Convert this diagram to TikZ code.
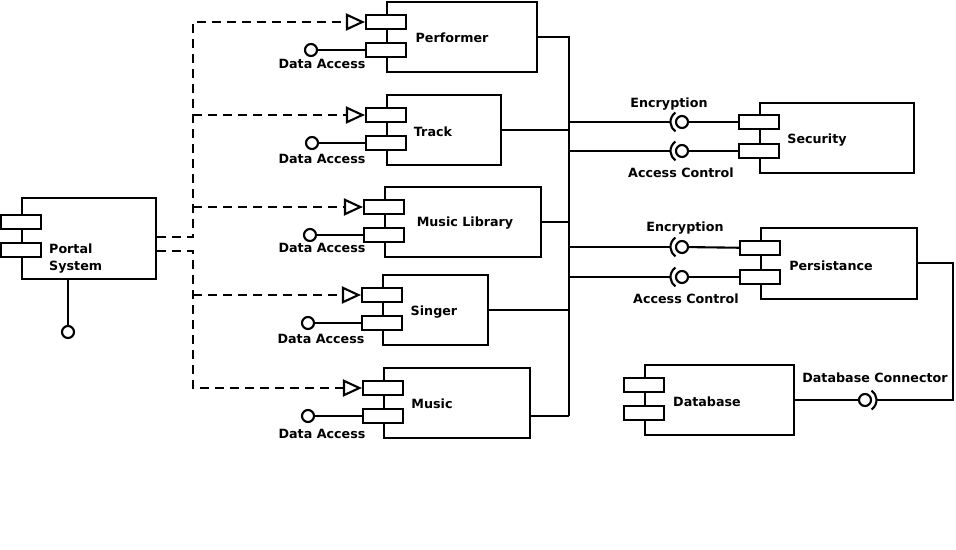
\documentclass[tikz,border=0pt]{standalone}
\usepackage{fontspec}
\setmainfont{DejaVu Sans}
\usetikzlibrary{arrows.meta}
\begin{document}
\begin{tikzpicture}[x=1pt,y=-1pt,
  comp/.style={draw, line width=2.1pt, inner sep=0, anchor=north west},
  port/.style={draw, line width=2.1pt, fill=white, minimum width=40pt, minimum height=14pt, inner sep=0},
  txt/.style={font=\bfseries\fontsize{12.7}{16.5}\selectfont, inner sep=0},
  ball/.style={circle, draw, line width=2.1pt, minimum size=12pt, inner sep=0},
  dep/.style={line width=2.1pt, dash pattern=on 9pt off 6pt, -{Triangle[open,length=19pt,width=17pt]}},
  wire/.style={line width=2.1pt}]
\useasboundingbox (0,0) rectangle (956,549);

% ---------- Portal System ----------
\node[comp, minimum width=134pt, minimum height=81pt] (portal) at (21,197) {};
\node[port] (portP1) at (21,222) {};
\node[port] (portP2) at (21,250) {};
\node[txt, anchor=west, align=left] (portL) at (49,258.5) {Portal\\System};
\node[ball] (portB) at (68,332) {};
\draw[wire] (portB) -- (portB |- portal.south);

% ---------- Performer ----------
\node[comp, minimum width=150pt, minimum height=70pt] (perf) at (386,1) {};
\node[port] (perfP1) at (386,22) {};
\node[port] (perfP2) at (386,50) {};
\node[txt] (perfL) at (452,38) {Performer};
\node[ball] (perfB) at (311,50) {};
\draw[wire] (perfB) -- (perfP2);
\node[txt] (perfD) at (322,64) {Data Access};

% ---------- Track ----------
\node[comp, minimum width=114pt, minimum height=70pt] (track) at (386,94) {};
\node[port] (trackP1) at (386,115) {};
\node[port] (trackP2) at (386,143) {};
\node[txt] (trackL) at (433,132) {Track};
\node[ball] (trackB) at (312,143) {};
\draw[wire] (trackB) -- (trackP2);
\node[txt] (trackD) at (322,159) {Data Access};

% ---------- Music Library ----------
\node[comp, minimum width=156pt, minimum height=70pt] (ml) at (384,186) {};
\node[port] (mlP1) at (384,207) {};
\node[port] (mlP2) at (384,235) {};
\node[txt] (mlL) at (465,223) {Music Library};
\node[ball] (mlB) at (310,235) {};
\draw[wire] (mlB) -- (mlP2);
\node[txt] (mlD) at (322,248) {Data Access};

% ---------- Singer ----------
\node[comp, minimum width=105pt, minimum height=70pt] (sing) at (382,274) {};
\node[port] (singP1) at (382,295) {};
\node[port] (singP2) at (382,323) {};
\node[txt] (singL) at (434,312) {Singer};
\node[ball] (singB) at (308,323) {};
\draw[wire] (singB) -- (singP2);
\node[txt] (singD) at (321,339) {Data Access};

% ---------- Music ----------
\node[comp, minimum width=146pt, minimum height=70pt] (mus) at (383,367) {};
\node[port] (musP1) at (383,388) {};
\node[port] (musP2) at (383,416) {};
\node[txt] (musL) at (432,404) {Music};
\node[ball] (musB) at (308,416) {};
\draw[wire] (musB) -- (musP2);
\node[txt] (musD) at (322,434) {Data Access};

% ---------- Security ----------
\node[comp, minimum width=154pt, minimum height=70pt] (sec) at (759,102) {};
\node[port] (secP1) at (759,122) {};
\node[port] (secP2) at (759,151) {};
\node[txt] (secL) at (817,140) {Security};

% ---------- Persistance ----------
\node[comp, minimum width=156pt, minimum height=71pt] (pers) at (760,227) {};
\node[port] (persP1) at (760,248) {};
\node[port] (persP2) at (760,277) {};
\node[txt] (persL) at (831,266) {Persistance};

% ---------- Database ----------
\node[comp, minimum width=149pt, minimum height=70pt] (db) at (644,364) {};
\node[port] (dbP1) at (644,385) {};
\node[port] (dbP2) at (644,413) {};
\node[txt] (dbL) at (707,402) {Database};

% ---------- bus ----------
\coordinate (bT) at (569,36);
\coordinate (bB) at (569,416);
\draw[wire] (bT) -- (bB);
\draw[wire] (perf.east) -- (perf.east -| bT);
\draw[wire] (track.east) -- (track.east -| bT);
\draw[wire] (ml.east) -- (ml.east -| bT);
\draw[wire] (sing.east) -- (sing.east -| bT);
\draw[wire] (mus.east |- bB) -- (bB);

% ---------- sockets ----------
\node[ball] (secE) at (682,122) {};
\node[ball] (secA) at (682,151) {};
\node[ball] (persE) at (682,247) {};
\node[ball] (persA) at (682,277) {};
\foreach \s in {secE,secA,persE,persA}{
  \draw[wire] (bT |- \s) -- ([xshift=-11.5pt]\s.center);
  \draw[wire] ([shift={(125:11.5pt)}]\s.center) arc[start angle=125, end angle=235, radius=11.5pt];
}
\draw[wire] (secE) -- (secP1);
\draw[wire] (secA) -- (secP2);
\draw[wire] (persE) -- (persP1);
\draw[wire] (persA) -- (persP2);
\node[txt] (secEL) at (669,104) {Encryption};
\node[txt] (secAL) at (681,173) {Access Control};
\node[txt] (persEL) at (685,228) {Encryption};
\node[txt] (persAL) at (686,299) {Access Control};

% ---------- database connector ----------
\node[ball] (dbB) at (865,400) {};
\coordinate (pc) at (953,263);
\draw[wire] (db.east |- dbB) -- (dbB);
\draw[wire] ([shift={(-55:11.5pt)}]dbB.center) arc[start angle=-55, end angle=55, radius=11.5pt];
\draw[wire] (pers.east |- pc) -- (pc) -- (pc |- dbB) -- ([xshift=11.5pt]dbB.center);
\node[txt] (dbCL) at (875,378) {Database Connector};

% ---------- dependencies ----------
\coordinate (dU) at (193,237);
\coordinate (dL) at (193,251);
\draw[dep] (portal.east |- dU) -- (dU) -- (dU |- perfP1) -- (perfP1.west);
\draw[dep] (dU |- trackP1) -- (trackP1.west);
\draw[dep] (dU |- mlP1) -- (mlP1.west);
\draw[dep] (portal.east |- dL) -- (dL) -- (dL |- musP1) -- (musP1.west);
\draw[dep] (dL |- singP1) -- (singP1.west);
\end{tikzpicture}
\end{document}
